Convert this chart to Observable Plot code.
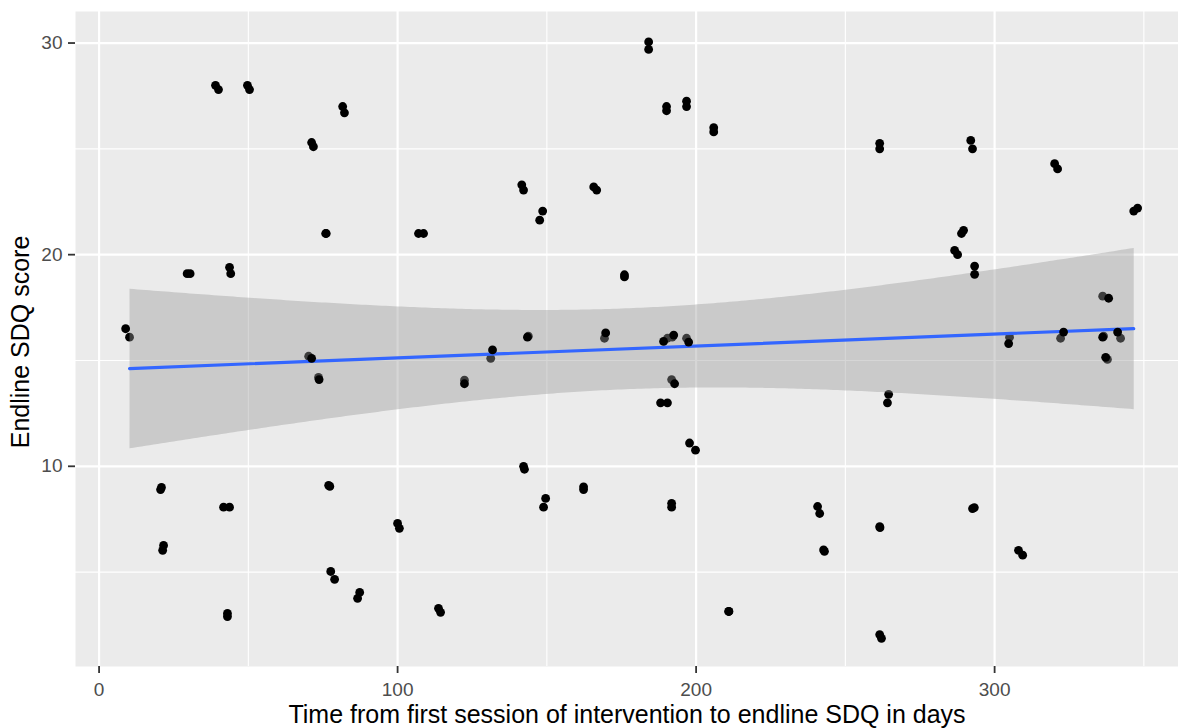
<!DOCTYPE html>
<html>
<head>
<meta charset="utf-8">
<script src="https://cdn.jsdelivr.net/npm/d3@7"></script>
<script src="https://cdn.jsdelivr.net/npm/@observablehq/plot@0.6"></script>
<style>
  html, body { margin: 0; padding: 0; background: #ffffff; }
  #chart { width: 1178px; height: 728px; overflow: hidden; }
</style>
</head>
<body>
<div id="chart"></div>
<script>
// Layer A: points drawn beneath the confidence band (also used for the fit)
const daysA  = [39.0, 49.7, 81.6, 71.2, 75.9, 29.5, 43.7, 10.2, 70.2, 73.5, 20.9, 41.7, 21.6, 43.0, 76.9, 77.6, 87.3, 100.0,
  184.1, 190.1, 196.8, 205.9, 141.6, 165.7, 148.6, 107.0, 176.0, 143.8, 169.3, 131.2, 122.4, 190.4, 192.0, 196.8, 191.8,
  188.1, 197.8, 142.2, 149.6, 162.3, 191.8, 113.7, 210.9, 261.5, 292.0, 320.1, 346.6, 289.6, 286.6, 293.3, 336.2, 322.1,
  305.0, 336.5, 342.2, 337.8, 264.5, 240.7, 261.5, 242.7, 292.6, 308.0, 261.5];
const scoreA = [28.0, 28.0, 27.0, 25.3, 21.0, 19.1, 19.4, 16.1, 15.2, 14.2, 9.0, 8.07, 6.26, 3.05, 9.1, 5.03, 4.04, 7.3,
  30.05, 27.0, 27.25, 26.0, 23.3, 23.2, 22.06, 21.0, 19.05, 16.15, 16.05, 15.1, 14.07, 16.05, 16.1, 16.05, 14.1,
  13.0, 11.1, 10.0, 8.48, 9.03, 8.25, 3.29, 3.14, 25.26, 25.4, 24.3, 22.06, 21.15, 20.2, 19.46, 18.04, 16.05,
  16.1, 16.15, 16.05, 15.05, 13.4, 8.1, 7.15, 6.05, 8.0, 6.03, 2.05];
// Layer B: the second (jittered) copy drawn above the band
const daysB  = [40.0, 50.4, 82.2, 71.8, 76.1, 30.5, 44.1, 8.9, 71.2, 73.7, 20.6, 43.7, 21.3, 43.0, 77.3, 78.9, 86.6, 100.6,
  184.1, 190.1, 196.8, 205.9, 142.2, 166.7, 147.6, 108.7, 176.0, 143.5, 169.7, 131.8, 122.4, 189.1, 192.5, 197.5, 192.8,
  190.4, 199.8, 142.5, 148.9, 162.3, 191.8, 114.4, 211.0, 261.5, 292.6, 321.1, 347.9, 288.9, 287.6, 293.3, 338.2, 323.1,
  304.7, 336.2, 341.2, 337.2, 264.1, 241.4, 261.6, 243.0, 293.2, 309.4, 262.1];
const scoreB = [27.8, 27.8, 26.7, 25.1, 21.0, 19.1, 19.1, 16.5, 15.1, 14.1, 8.9, 8.07, 6.03, 2.9, 9.05, 4.66, 3.76, 7.07,
  29.7, 26.8, 27.0, 25.8, 23.05, 23.05, 21.63, 21.0, 18.95, 16.1, 16.3, 15.5, 13.9, 15.9, 16.2, 15.87, 13.9,
  13.0, 10.76, 9.86, 8.07, 8.9, 8.07, 3.1, 3.14, 25.0, 25.0, 24.05, 22.2, 21.0, 20.0, 19.07, 17.94, 16.34,
  15.8, 16.1, 16.34, 15.15, 13.0, 7.77, 7.1, 5.98, 8.05, 5.8, 1.87];

const xTicks = [0, 100, 200, 300];
const xMinor = [50, 150, 250, 350];
const yTicks = [10, 20, 30];
const yMinor = [5, 15, 25];
const xTitle = "Time from first session of intervention to endline SDQ in days";
const yTitle = "Endline SDQ score";

const A = daysA.map((d, i) => ({days: d, score: scoreA[i]}));
const B = daysB.map((d, i) => ({days: d, score: scoreB[i]}));

const chart = Plot.plot({
  width: 1178,
  height: 728,
  marginLeft: 75,
  marginRight: 0,
  marginTop: 11,
  marginBottom: 62,
  style: {fontFamily: "'Liberation Sans', Arial, sans-serif", background: "#ffffff", overflow: "visible"},
  x: {domain: [-7.9, 361.6]},
  y: {domain: [0.54, 31.49]},
  marks: [
    Plot.frame({fill: "#EBEBEB", stroke: null}),
    Plot.gridX(xMinor, {stroke: "#ffffff", strokeOpacity: 1, strokeWidth: 1.1}),
    Plot.gridY(yMinor, {stroke: "#ffffff", strokeOpacity: 1, strokeWidth: 1.1}),
    Plot.gridX(xTicks, {stroke: "#ffffff", strokeOpacity: 1, strokeWidth: 2.2}),
    Plot.gridY(yTicks, {stroke: "#ffffff", strokeOpacity: 1, strokeWidth: 2.2}),
    Plot.dot(A, {x: "days", y: "score", r: 4.4, fill: "#000000", stroke: null}),
    Plot.linearRegressionY(A, {x: "days", y: "score", stroke: "#3366FF", strokeWidth: 3.2, fill: "#999999", fillOpacity: 0.4, ci: 0.95}),
    Plot.dot(B, {x: "days", y: "score", r: 4.4, fill: "#000000", stroke: null}),
    Plot.axisX(xTicks, {tickSize: 7, tickPadding: 9, fontSize: 19, fill: "#4d4d4d", stroke: "#333333", strokeWidth: 1.8, label: null}),
    Plot.axisY(yTicks, {tickSize: 7, tickPadding: 6, fontSize: 19, fill: "#4d4d4d", stroke: "#333333", strokeWidth: 1.8, label: null}),
    Plot.text([xTitle], {frameAnchor: "bottom", text: d => d, dy: 48, fontSize: 25, fill: "#000000", lineAnchor: "middle", textAnchor: "middle"}),
    Plot.text([yTitle], {frameAnchor: "left", text: d => d, dx: -55, dy: 3, rotate: -90, fontSize: 25, fill: "#000000", lineAnchor: "middle", textAnchor: "middle"})
  ]
});
document.getElementById("chart").appendChild(chart);
</script>
</body>
</html>
